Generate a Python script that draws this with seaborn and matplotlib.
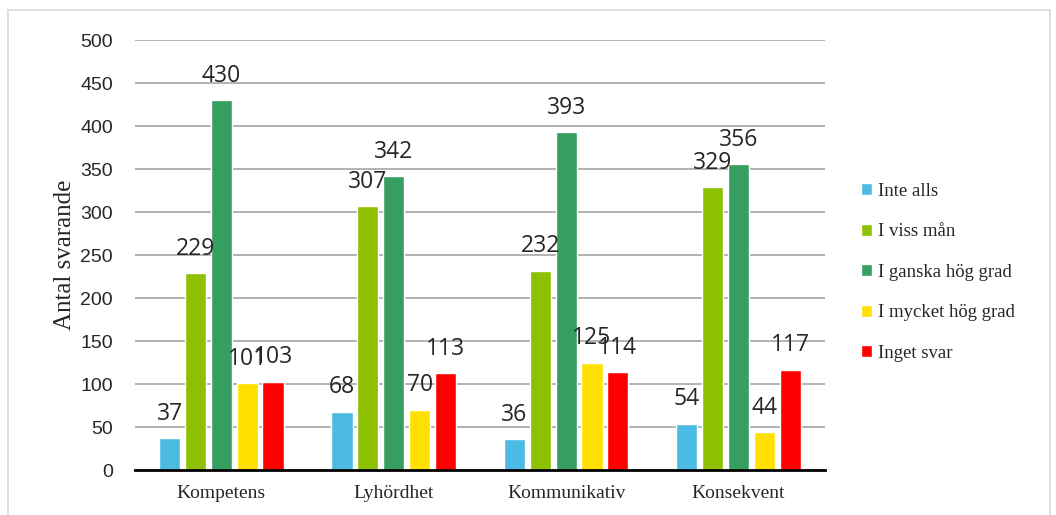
import seaborn as sns
import matplotlib.pyplot as plt
import pandas as pd
from matplotlib.patches import Rectangle

categories = ["Kompetens", "Lyhördhet", "Kommunikativ", "Konsekvent"]
responses = ["Inte alls", "I viss mån", "I ganska hög grad", "I mycket hög grad", "Inget svar"]
inte_alls = [37, 68, 36, 54]
i_viss_man = [229, 307, 232, 329]
i_ganska_hog = [430, 342, 393, 356]
i_mycket_hog = [101, 70, 125, 44]
inget_svar = [103, 113, 114, 117]
colors = ["#4BBBE3", "#8CC000", "#379E61", "#FFE000", "#FF0000"]

series = [inte_alls, i_viss_man, i_ganska_hog, i_mycket_hog, inget_svar]
rows = []
for resp, vals in zip(responses, series):
    for cat, v in zip(categories, vals):
        rows.append({"kategori": cat, "svar": resp, "antal": v})
df = pd.DataFrame(rows)

sns.set_style("white")
serif = ["Liberation Serif", "DejaVu Serif"]
sans = ["Liberation Sans", "DejaVu Sans"]

fig = plt.figure(figsize=(10.56, 5.15), dpi=100)
ax = fig.add_axes([0.128, 0.087, 0.653, 0.835])
sns.barplot(data=df, x="kategori", y="antal", hue="svar", hue_order=responses,
            order=categories, palette=colors, width=0.75, gap=0.18,
            saturation=1, ax=ax, errorbar=None)

for cont in ax.containers:
    ax.bar_label(cont, padding=9, fontsize=16.5, family=["Open Sans", "DejaVu Sans"])

ax.set_ylim(0, 500)
ax.set_yticks(range(0, 501, 50))
ax.yaxis.grid(True, color="#A6A6A6", linewidth=1.2)
ax.set_axisbelow(True)
for s in ["left", "right", "top"]:
    ax.spines[s].set_visible(False)
ax.spines["bottom"].set_color("black")
ax.spines["bottom"].set_linewidth(2)
ax.tick_params(axis="both", length=0)
ax.tick_params(axis="y", pad=16)
ax.tick_params(axis="x", pad=11)
for t in ax.get_yticklabels():
    t.set_family(sans)
    t.set_fontsize(14)
for t in ax.get_xticklabels():
    t.set_family(serif)
    t.set_fontsize(14)
ax.set_xlabel("")
ax.set_ylabel("Antal svarande", family=serif, fontsize=18, labelpad=3)

leg = ax.legend(loc="center left", bbox_to_anchor=(1.028, 0.46), frameon=False,
                prop={"family": serif, "size": 13.5}, handlelength=0.6,
                handleheight=0.6, handletextpad=0.3, labelspacing=1.25)

fig.add_artist(Rectangle((8 / 1056, -0.01), 1042 / 1056, 1 - 10 / 515 + 0.01,
                         transform=fig.transFigure, fill=False,
                         edgecolor="#D9D9D9", linewidth=1.2))

fig.savefig("out.png", dpi=100)
